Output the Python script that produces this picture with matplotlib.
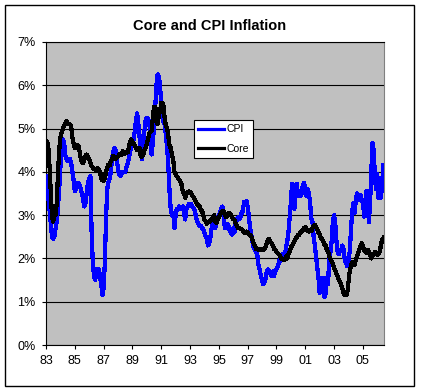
import numpy as np
import matplotlib
matplotlib.use('Agg')
import matplotlib.pyplot as plt
from matplotlib.patches import Rectangle
from matplotlib.ticker import FuncFormatter

plt.rcParams['font.family'] = ['Liberation Sans', 'DejaVu Sans']

# monthly series starting Jan 1983, in percent
start_year = 1983
cpi = [3.9, 3.6, 3.4, 3.1, 2.8, 2.5, 2.45, 2.5, 2.7, 2.85, 3.2, 3.6, 4.1, 4.5, 4.75, 4.7,
       4.4, 4.3, 4.25, 4.25, 4.3, 4.2, 4.0, 3.8, 3.55, 3.6, 3.7, 3.75, 3.7, 3.6, 3.5, 3.35,
       3.2, 3.3, 3.55, 3.75, 3.85, 3.9,
       2.6, 1.9, 1.6, 1.5, 1.75, 1.6, 1.75, 1.6, 1.4, 1.15, 1.3, 1.9, 2.9, 3.6, 3.75, 3.85,
       4.0, 4.3, 4.45, 4.55, 4.5, 4.3, 4.05, 3.95, 3.9, 3.95, 4.0, 4.0,
       4.0, 4.1, 4.2, 4.3, 4.45, 4.6, 4.7, 4.75, 4.95, 5.2, 5.35, 5.1, 4.8, 4.45, 4.3, 4.6,
       4.95, 5.2, 5.25, 5.23, 5.15, 4.8, 4.4, 4.7, 5.05, 5.5, 6.0, 6.25, 6.2, 6.0, 5.55, 5.25,
       5.15, 5.1, 4.8, 4.55, 4.1, 3.5, 3.1, 3.0, 3.05, 2.7, 3.0, 3.15, 3.15, 3.2, 3.15, 3.15,
       3.2, 3.05, 2.9, 3.15, 3.2, 3.25, 3.25, 3.25, 3.2, 3.15, 3.1, 2.95, 2.85, 2.8, 2.75, 2.75,
       2.7, 2.68, 2.6, 2.5, 2.45, 2.3, 2.35, 2.5, 2.7, 2.8, 2.9,
       2.7, 2.85, 2.95, 3.0, 3.05, 3.15, 3.2, 3.05, 2.7, 2.8, 2.8, 2.75, 2.65, 2.6, 2.55, 2.7,
       2.6, 2.8, 2.9, 2.95, 2.9, 2.95, 3.05, 3.1, 3.3, 3.3, 3.33, 3.2, 2.98, 2.7, 2.55, 2.4,
       2.25, 2.2, 2.15, 2.1, 1.85, 1.75, 1.6, 1.5, 1.4, 1.45, 1.55, 1.7, 1.75, 1.7, 1.65, 1.6,
       1.7, 1.6, 1.7, 1.75, 1.8, 1.9, 2.0, 1.95, 2.1, 2.05, 2.05, 2.25, 2.4, 2.6,
       2.95, 3.3, 3.72, 3.7, 3.15, 3.65, 3.72, 3.45, 3.5, 3.45, 3.5, 3.7, 3.75, 3.6, 3.45, 3.6,
       3.5, 3.3, 2.93, 2.85, 2.5, 2.3, 2.05, 1.8, 1.55, 1.2, 1.55, 1.4, 1.55, 1.1, 1.2, 1.55,
       1.4, 2.05, 2.15, 2.4, 2.85, 3.0, 2.8, 2.4, 2.15, 2.1, 2.2, 2.2, 2.3, 2.2, 1.95, 1.9,
       1.82, 1.95, 2.15, 2.6, 3.05, 3.28, 3.05, 3.3, 3.5, 3.35, 3.4, 3.47, 3.32, 3.36, 2.97, 3.28,
       3.55, 3.3, 2.84, 3.3, 4.0, 4.67, 4.5, 3.9, 3.6, 3.95, 3.4, 3.8, 3.4, 3.7, 4.15]
core = [4.72, 4.7, 4.55, 4.1, 3.5, 2.95, 2.85, 3.05, 3.0, 3.3, 4.0, 4.5, 4.8, 4.9, 5.0, 5.05,
        5.12, 5.18, 5.12, 5.1, 5.1, 5.05, 4.8, 4.65,
        4.55, 4.6, 4.62, 4.6, 4.48, 4.3, 4.22, 4.2, 4.28, 4.38, 4.4, 4.35, 4.3, 4.2, 4.13, 4.1,
        4.07, 4.05, 4.05, 4.08, 4.05, 4.0, 3.85, 3.8, 3.8, 3.85, 4.0, 4.1, 4.17, 4.15, 4.25, 4.3,
        4.37, 4.35, 4.3, 4.33, 4.35, 4.4, 4.42, 4.4, 4.48, 4.45,
        4.42, 4.45, 4.45, 4.55, 4.7, 4.75, 4.7, 4.65, 4.6, 4.55, 4.5, 4.5, 4.55, 4.35, 4.35, 4.4,
        4.5, 4.55, 4.65, 4.75, 4.9, 4.92, 4.95, 5.25, 5.5, 5.5, 5.35, 5.1, 5.3, 5.4, 5.6, 5.6,
        5.5, 5.2, 5.05, 5.0, 4.8, 4.6, 4.55, 4.4, 4.27, 4.0, 3.95, 3.9, 3.85, 3.82, 3.78, 3.7,
        3.54, 3.5, 3.4, 3.5, 3.52, 3.55, 3.54, 3.5, 3.45, 3.42, 3.35, 3.3, 3.25, 3.22, 3.2, 3.12,
        3.1, 3.0, 2.9, 2.85, 2.8, 2.85, 2.85, 2.88, 2.88, 2.95, 3.0,
        2.85, 2.82, 2.9, 2.95, 3.0, 3.05, 3.1, 3.1, 3.0, 2.95, 3.0, 3.05, 3.05, 3.0, 2.95, 2.9,
        2.9, 2.8, 2.75, 2.7, 2.7, 2.68, 2.67, 2.65, 2.6, 2.6, 2.62, 2.6, 2.55, 2.55, 2.5, 2.43,
        2.35, 2.3, 2.22, 2.22, 2.2, 2.22, 2.2, 2.22, 2.2, 2.22, 2.28, 2.35, 2.43, 2.45, 2.38, 2.35,
        2.3, 2.22, 2.2, 2.15, 2.12, 2.1, 2.05, 2.0, 1.98, 1.97, 1.97, 2.05, 2.0, 2.1, 2.15, 2.25,
        2.3, 2.35, 2.4, 2.45, 2.5, 2.55, 2.55,
        2.6, 2.63, 2.65, 2.7, 2.72, 2.68, 2.64, 2.62, 2.65, 2.63, 2.7, 2.75, 2.78, 2.72, 2.68, 2.6,
        2.55, 2.47, 2.45, 2.4, 2.32, 2.3, 2.2, 2.16, 2.05, 1.98, 1.93, 1.88, 1.78, 1.72, 1.65, 1.58,
        1.5, 1.45, 1.38, 1.3, 1.2, 1.15, 1.15, 1.2, 1.45, 1.7, 1.82, 1.9, 1.92, 1.85, 1.95, 2.05,
        2.12, 2.2, 2.28, 2.35, 2.3, 2.2, 2.15, 2.12, 2.2, 2.15, 2.08, 2.0, 2.05, 2.1, 2.15, 2.12,
        2.08, 2.1, 2.15, 2.3, 2.43, 2.47]

year_ticks = [1983, 1985, 1987, 1989, 1991, 1993, 1995, 1997, 1999, 2001, 2003, 2005]
year_labels = ['83', '85', '87', '89', '91', '93', '95', '97', '99', '01', '03', '05']
pct_ticks = [0, 1, 2, 3, 4, 5, 6, 7]

months = start_year + np.arange(len(cpi)) / 12.0

fig = plt.figure(figsize=(4.21, 3.92), dpi=100)
fig.patch.set_facecolor('white')
ax = fig.add_axes([46 / 421, 47 / 392, 338 / 421, 303 / 392])
ax.set_facecolor('#c0c0c0')

# old excel style: thick, not smoothed lines
ax.plot(months, cpi, color='#0000ff', lw=2.3, label='CPI', zorder=3, antialiased=False)
ax.plot(months, core, color='black', lw=2.3, label='Core', zorder=4, antialiased=False)

ax.set_xlim(start_year, months[-1] + 0.05)
ax.set_ylim(0, 7)
ax.set_yticks(pct_ticks)
ax.yaxis.set_major_formatter(FuncFormatter(lambda v, p: '%d%%' % v))
ax.set_xticks(year_ticks)
ax.set_xticklabels(year_labels)
ax.grid(axis='y', color='black', lw=0.8)
ax.set_axisbelow(True)

for s in ['left', 'bottom', 'top']:
    ax.spines[s].set_color('black')
    ax.spines[s].set_linewidth(0.8)
ax.spines['right'].set_color('#808080')
ax.spines['right'].set_linewidth(0.8)
ax.tick_params(direction='out', length=3, width=0.8, labelsize=9, colors='black')
ax.tick_params(axis='y', pad=4.5)
ax.tick_params(axis='x', pad=4)

leg = ax.legend(loc='upper left', bbox_to_anchor=(0.438, 0.7426), fontsize=7.5,
                frameon=True, fancybox=False, edgecolor='black', framealpha=1,
                borderpad=0.4, handlelength=2.5, handletextpad=0.2,
                labelspacing=0.9, borderaxespad=0)
leg.get_frame().set_linewidth(0.8)

fig.text(210 / 421, (392 - 26) / 392, 'Core and CPI Inflation', ha='center',
         va='center', fontsize=10.5, fontweight='bold')

# outer chart border
fig.patches.append(Rectangle((5 / 421, 6 / 392), 409 / 421, 381 / 392,
                             transform=fig.transFigure, fill=False,
                             ec='black', lw=1))

fig.savefig('out.png', dpi=100)
